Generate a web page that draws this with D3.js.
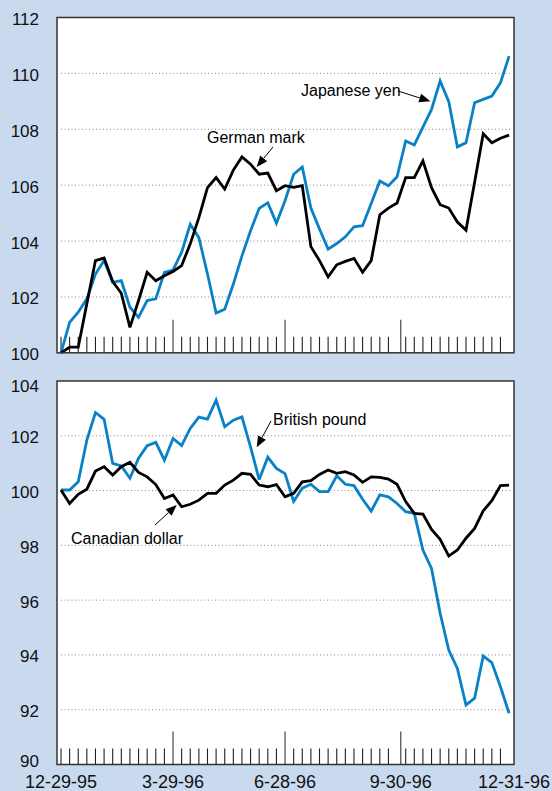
<!DOCTYPE html>
<html>
<head>
<meta charset="utf-8">
<script src="https://cdn.jsdelivr.net/npm/d3@7"></script>
<style>
  html, body { margin: 0; padding: 0; background: #c9daef; }
  svg { display: block; font-family: "Liberation Sans", Arial, Helvetica, sans-serif; }
</style>
</head>
<body>
<svg id="chart" width="552" height="791"></svg>
<script>
// weekly index values, 12-29-95 = 100
const germanMark = [100, 100.2, 100.2, 101.76, 103.3, 103.39, 102.55, 102.13, 100.91, 101.87,
  102.88, 102.58, 102.76, 102.91, 103.12, 103.9, 104.84, 105.91, 106.27, 105.86,
  106.54, 107.01, 106.75, 106.39, 106.43, 105.8, 105.98, 105.92, 105.98, 103.8,
  103.3, 102.72, 103.15, 103.27, 103.38, 102.88, 103.3, 104.94, 105.18, 105.36,
  106.27, 106.27, 106.87, 105.91, 105.3, 105.18, 104.68, 104.39, 106.1, 107.84,
  107.52, 107.68, 107.79];
const japaneseYen = [100, 101.09, 101.45, 101.93, 102.82, 103.3, 102.52, 102.58, 101.63, 101.27,
  101.87, 101.93, 102.88, 102.96, 103.6, 104.6, 104.12, 102.82, 101.42, 101.56,
  102.46, 103.47, 104.37, 105.17, 105.37, 104.64, 105.44, 106.39, 106.65, 105.18,
  104.43, 103.71, 103.91, 104.15, 104.51, 104.55, 105.34, 106.15, 105.98, 106.3,
  107.58, 107.44, 108.08, 108.71, 109.73, 108.99, 107.37, 107.52, 108.95, 109.07,
  109.19, 109.66, 110.62];
const britishPound = [100.02, 100.02, 100.32, 101.84, 102.85, 102.6, 100.99, 100.9, 100.45, 101.18,
  101.64, 101.76, 101.11, 101.9, 101.64, 102.27, 102.68, 102.61, 103.3, 102.33,
  102.57, 102.69, 101.59, 100.4, 101.22, 100.81, 100.62, 99.6, 100.09, 100.23,
  99.96, 99.96, 100.54, 100.23, 100.18, 99.68, 99.25, 99.84, 99.77, 99.53,
  99.23, 99.17, 97.83, 97.16, 95.52, 94.18, 93.51, 92.17, 92.42, 93.96,
  93.72, 92.84, 91.87];
const canadianDollar = [100.02, 99.53, 99.86, 100.05, 100.71, 100.87, 100.57, 100.87, 101.03, 100.66,
  100.5, 100.22, 99.71, 99.84, 99.41, 99.5, 99.65, 99.9, 99.9, 100.2,
  100.38, 100.63, 100.59, 100.2, 100.14, 100.22, 99.77, 99.9, 100.32, 100.36,
  100.59, 100.75, 100.63, 100.69, 100.57, 100.3, 100.5, 100.48, 100.42, 100.23,
  99.6, 99.17, 99.14, 98.58, 98.22, 97.61, 97.83, 98.26, 98.62, 99.26,
  99.63, 100.18, 100.2];

const parseDate = d3.timeParse("%m-%d-%y");
const weeks = d3.timeFriday.range(parseDate("12-29-95"), parseDate("01-01-97"));
const quarterLabels = ["12-29-95", "3-29-96", "6-28-96", "9-30-96", "12-31-96"];
const quarterTicks = ["3-29-96", "6-28-96", "9-30-96"];
const topTicks = [100, 102, 104, 106, 108, 110, 112];
const bottomTicks = [90, 92, 94, 96, 98, 100, 102, 104];

const blue = "#0981c6";
const svg = d3.select("#chart");

const x = d3.scaleTime()
  .domain([parseDate("12-29-95"), parseDate("12-31-96")])
  .range([61, 514]);
const left = 57, right = 514;

const drawPanel = (cfg) => {
  const y = d3.scaleLinear().domain(cfg.domain).range(cfg.range);
  const top = y(cfg.domain[1]), bottom = y(cfg.domain[0]);
  const g = svg.append("g");

  g.append("rect")
    .attr("x", left).attr("y", top)
    .attr("width", right - left).attr("height", bottom - top)
    .attr("fill", "#fff");

  // dotted grid
  g.selectAll(".grid")
    .data(cfg.ticks.slice(1, -1))
    .join("line")
      .attr("x1", left + 4).attr("x2", right - 4)
      .attr("y1", d => y(d)).attr("y2", d => y(d))
      .attr("stroke", "#8a8a8a")
      .attr("stroke-width", 1)
      .attr("stroke-dasharray", "1,2.5");

  // week ticks, longer at quarter ends
  const majors = quarterTicks.map(parseDate);
  const minors = weeks.slice(0, -1).filter(w => !majors.some(m => Math.abs(m - w) < 4 * 864e5));
  g.selectAll(".minor")
    .data(minors)
    .join("line")
      .attr("x1", d => x(d)).attr("x2", d => x(d))
      .attr("y1", bottom - 16).attr("y2", bottom)
      .attr("stroke", "#222").attr("stroke-width", 1.1);
  g.selectAll(".major")
    .data(majors)
    .join("line")
      .attr("x1", d => x(d)).attr("x2", d => x(d))
      .attr("y1", bottom - 33).attr("y2", bottom)
      .attr("stroke", "#555").attr("stroke-width", 1.3);

  // y labels (bottom panel keeps its end labels inside the frame)
  g.selectAll(".ylab")
    .data(cfg.ticks)
    .join("text")
      .attr("x", 39)
      .attr("y", d => {
        const b = y(d) + 7.5;
        return cfg.clamp ? Math.min(Math.max(b, top + 11), bottom + 2.5) : b;
      })
      .attr("text-anchor", "end")
      .attr("font-size", 17)
      .attr("fill", "#111")
      .text(d => d);

  const line = d3.line()
    .x((d, i) => x(weeks[i]))
    .y(d => y(d));

  cfg.series.forEach(s => {
    g.append("path")
      .datum(s.values)
      .attr("d", line)
      .attr("fill", "none")
      .attr("stroke", s.color)
      .attr("stroke-width", 2.8)
      .attr("stroke-linejoin", "miter")
      .attr("stroke-miterlimit", 3);
  });

  g.append("rect")
    .attr("x", left).attr("y", top)
    .attr("width", right - left).attr("height", bottom - top)
    .attr("fill", "none")
    .attr("stroke", "#333")
    .attr("stroke-width", 1.5);

  cfg.notes.forEach(n => {
    g.append("text")
      .attr("x", n.tx).attr("y", n.ty)
      .attr("font-size", 16)
      .attr("fill", "#000")
      .text(n.label);
    const tip = [x(parseDate(n.date)), y(n.value)];
    const ang = Math.atan2(tip[1] - n.from[1], tip[0] - n.from[0]);
    const base = [tip[0] - 11 * Math.cos(ang), tip[1] - 11 * Math.sin(ang)];
    g.append("line")
      .attr("x1", n.from[0]).attr("y1", n.from[1])
      .attr("x2", base[0]).attr("y2", base[1])
      .attr("stroke", "#000").attr("stroke-width", 1);
    const px = -Math.sin(ang) * 4.5, py = Math.cos(ang) * 4.5;
    g.append("path")
      .attr("d", `M${tip[0]},${tip[1]}L${base[0] + px},${base[1] + py}L${base[0] - px},${base[1] - py}Z`)
      .attr("fill", "#000");
  });
};

drawPanel({
  domain: [100, 112], range: [352.8, 17.5], ticks: topTicks, clamp: false,
  series: [
    { values: japaneseYen, color: blue },
    { values: germanMark, color: "#000" }
  ],
  notes: [
    { label: "German mark", tx: 207, ty: 143, from: [273, 147], date: "6-5-96", value: 106.65 },
    { label: "Japanese yen", tx: 301, ty: 96, from: [398, 91], date: "10-24-96", value: 109.0 }
  ]
});

drawPanel({
  domain: [90, 104], range: [764.5, 381], ticks: bottomTicks, clamp: true,
  series: [
    { values: britishPound, color: blue },
    { values: canadianDollar, color: "#000" }
  ],
  notes: [
    { label: "British pound", tx: 273, ty: 425, from: [271, 421], date: "6-5-96", value: 101.58 },
    { label: "Canadian dollar", tx: 71, ty: 544, from: [155, 525], date: "4-1-96", value: 99.47 }
  ]
});

// date labels
svg.selectAll(".xlab")
  .data(quarterLabels)
  .join("text")
    .attr("x", d => x(parseDate(d)))
    .attr("y", 788)
    .attr("text-anchor", "middle")
    .attr("font-size", 18)
    .attr("fill", "#111")
    .text(d => d);
</script>
</body>
</html>
